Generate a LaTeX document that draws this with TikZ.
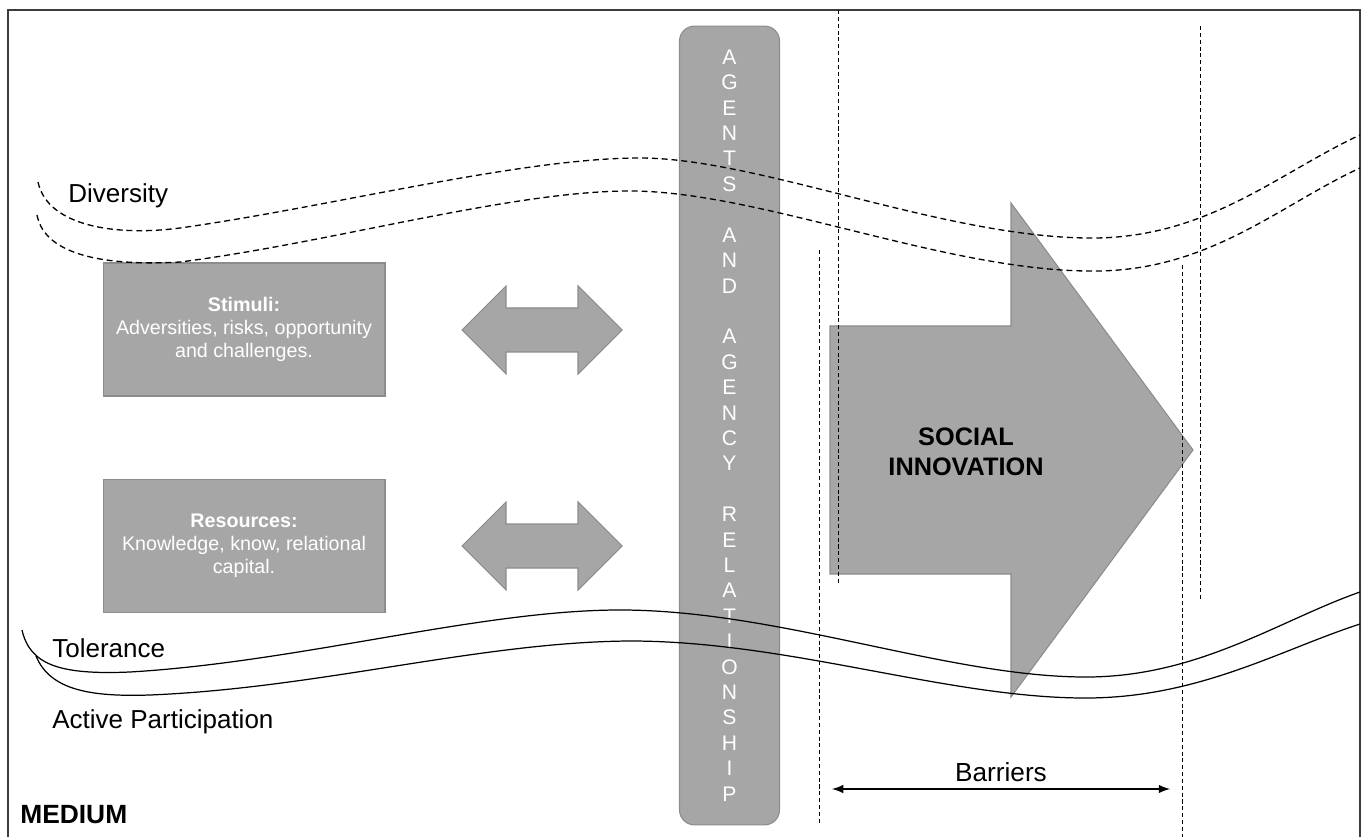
\documentclass[tikz,border=0pt]{standalone}
\usepackage{fontspec}
\setmainfont{Liberation Sans}
\tikzset{% default arrow tips
    >=latex
}
\definecolor{boxgray}{HTML}{A6A6A6}
\definecolor{edgegray}{HTML}{8C8C8C}
\definecolor{framegray}{HTML}{3C3C3C}

\begin{document}
\begin{tikzpicture}[x=0.02cm,y=-0.02cm,
    block/.style={fill=boxgray,draw=edgegray,line width=0.6pt},
    boxtext/.style={text=white,align=center,font=\fontsize{11.2}{13.2}\selectfont},
    tag/.style={anchor=west,inner sep=0pt,font=\fontsize{14.8}{17}\selectfont},
    wave/.style={line width=0.75pt,dash pattern=on 3.4pt off 2.2pt},
    guide/.style={line width=0.55pt,dash pattern=on 2.3pt off 1.6pt}]
    \useasboundingbox (0,0) rectangle (1365,837);

    % frame
    \draw[framegray,line width=1.1pt] (8,837) -- (8,10) -- (1360,10) -- (1360,837);

    % left boxes
    \node[block,boxtext,minimum width=5.64cm,minimum height=2.66cm] (stimuli) at (244,329.5)
        {\textbf{Stimuli:}\\Adversities, risks, opportunity\\and challenges.};
    \node[block,boxtext,minimum width=5.64cm,minimum height=2.66cm] (resources) at (244,546)
        {\textbf{Resources:}\\Knowledge, know, relational\\capital.};

    % double arrows
    \filldraw[block] (462,330) -- (506,286) -- (506,308) -- (578,308) -- (578,286) -- (622,330)
        -- (578,374) -- (578,352) -- (506,352) -- (506,374) -- cycle;
    \filldraw[block] (462,546) -- (506,502) -- (506,524) -- (578,524) -- (578,502) -- (622,546)
        -- (578,590) -- (578,568) -- (506,568) -- (506,590) -- cycle;

    % agents bar
    \node[block,rounded corners=0.3cm,minimum width=2cm,minimum height=15.98cm,
        text=white,align=center,font=\fontsize{12}{14.46}\selectfont] (agents) at (729.5,425.5)
        {A\\G\\E\\N\\T\\S\\~\\A\\N\\D\\~\\A\\G\\E\\N\\C\\Y\\~\\R\\E\\L\\A\\T\\I\\O\\N\\S\\H\\I\\P};

    % social innovation arrow
    \filldraw[block] (830,326) -- (1011,326) -- (1011,203) -- (1193,450) -- (1011,697)
        -- (1011,574) -- (830,574) -- cycle;
    \node[align=center,font=\bfseries\fontsize{14.4}{17}\selectfont] (innovation) at (966,452)
        {SOCIAL\\INNOVATION};

    % barrier guides
    \draw[guide] (838,10) -- (838,585);
    \draw[guide] (819,250) -- (819,825);
    \draw[guide] (1182,265) -- (1182,837);
    \draw[guide] (1200,26) -- (1200,600);

    % diversity waves
    \draw[wave] (38,182) .. controls (48,228) and (120,236) .. (180,228)
        .. controls (330,207) and (520,158) .. (640,158)
        .. controls (760,158) and (950,240) .. (1097,238)
        .. controls (1210,236) and (1280,172) .. (1360,135);
    \draw[wave] (37,215) .. controls (45,257) and (110,266) .. (180,262)
        .. controls (330,243) and (510,191) .. (630,191)
        .. controls (760,191) and (950,273) .. (1097,271)
        .. controls (1210,270) and (1280,205) .. (1360,168);

    % tolerance waves
    \draw[line width=0.7pt] (22,630) .. controls (30,665) and (60,675) .. (130,672)
        .. controls (300,662) and (480,610) .. (620,610)
        .. controls (780,610) and (950,678) .. (1089,677)
        .. controls (1200,676) and (1280,620) .. (1360,592);
    \draw[line width=0.7pt] (36,656) .. controls (50,690) and (90,697) .. (150,695)
        .. controls (320,688) and (480,642) .. (630,641)
        .. controls (790,641) and (950,699) .. (1089,698)
        .. controls (1200,697) and (1280,650) .. (1360,624);

    % labels
    \node[tag] (diversity) at (68,196) {Diversity};
    \node[tag] (tolerance) at (52,648) {Tolerance};
    \node[tag] (participation) at (52,722) {Active Participation};
    \node[tag,font=\bfseries\fontsize{15}{17}\selectfont] (medium) at (20,815) {MEDIUM};

    % barriers
    \coordinate (barleft) at (832,789);
    \coordinate (barright) at (1170,789);
    \draw[<->,line width=1.2pt] (barleft) -- (barright)
        node [midway, above, font=\fontsize{14.9}{17}\selectfont] (barriers) {Barriers};
\end{tikzpicture}
\end{document}
